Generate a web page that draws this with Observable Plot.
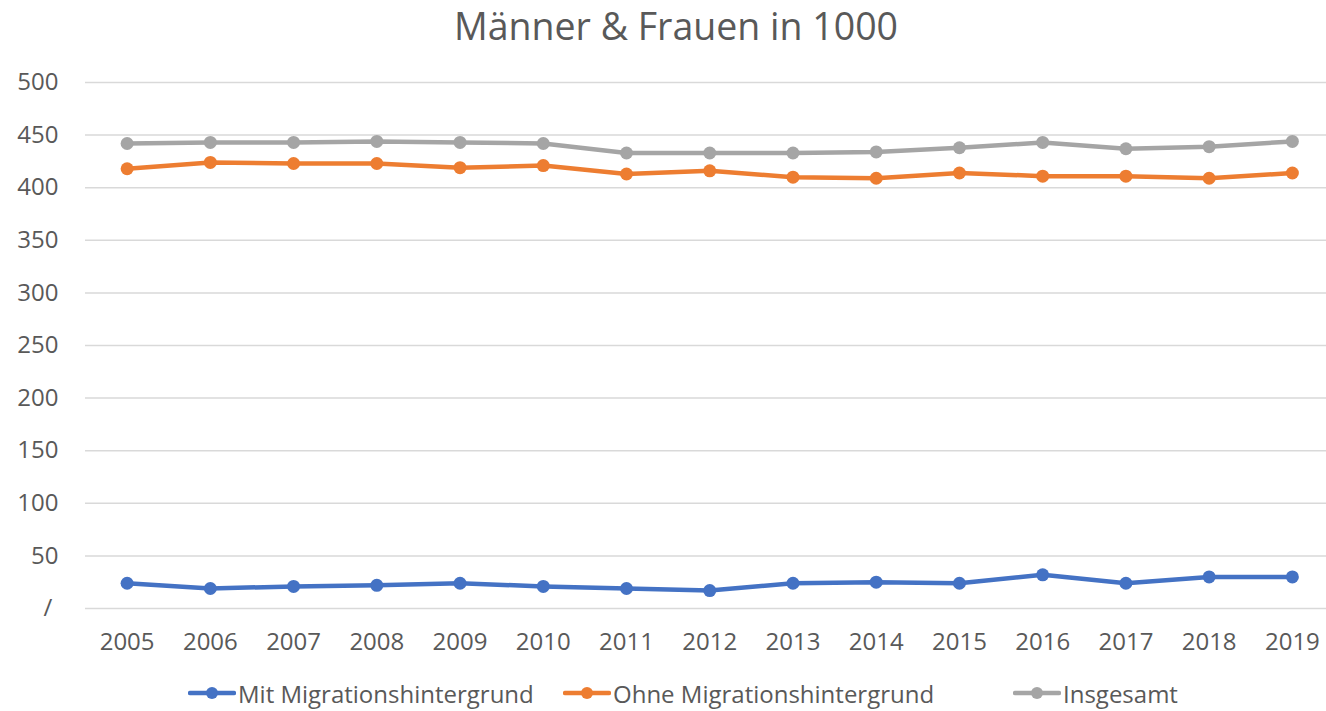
<!DOCTYPE html>
<html>
<head>
<meta charset="utf-8">
<script src="https://cdn.jsdelivr.net/npm/d3@7"></script>
<script src="https://cdn.jsdelivr.net/npm/@observablehq/plot@0.6"></script>
<style>
  body { margin: 0; width: 1326px; height: 711px; overflow: hidden; background: #fff; font-family: "Open Sans", sans-serif; color: #595959; position: relative; }
  #title { position: absolute; top: 0; left: 13px; width: 1326px; text-align: center; font-size: 37.5px; line-height: 52px; color: #595959; white-space: nowrap; }
  #chart { position: absolute; top: 55px; left: 0; }
  .leg { position: absolute; top: 677px; height: 32px; display: flex; align-items: center; font-size: 24px; color: #595959; white-space: nowrap; }
  .leg svg { margin-right: 2px; }
</style>
</head>
<body>
<div id="title">Männer &amp; Frauen in 1000</div>
<div id="chart"></div>
<div id="legend"></div>
<script>
const years = [2005, 2006, 2007, 2008, 2009, 2010, 2011, 2012, 2013, 2014, 2015, 2016, 2017, 2018, 2019];
const seriesNames = ["Mit Migrationshintergrund", "Ohne Migrationshintergrund", "Insgesamt"];
const seriesColors = ["#4472C4", "#ED7D31", "#A5A5A5"];
const mit = [24, 19, 21, 22, 24, 21, 19, 17, 24, 25, 24, 32, 24, 30, 30];
const ohne = [418, 424, 423, 423, 419, 421, 413, 416, 410, 409, 414, 411, 411, 409, 414];
const insgesamt = [442, 443, 443, 444, 443, 442, 433, 433, 433, 434, 438, 443, 437, 439, 444];
const yTicks = [0, 50, 100, 150, 200, 250, 300, 350, 400, 450, 500];

const valuesBySeries = [mit, ohne, insgesamt];
const data = [];
seriesNames.forEach((s, i) => years.forEach((y, j) => data.push({year: y, value: valuesBySeries[i][j], series: s})));

const chart = Plot.plot({
  width: 1326,
  height: 610,
  marginLeft: 85,
  marginRight: 0,
  marginTop: 27,
  marginBottom: 57,
  style: {fontFamily: "'Open Sans', sans-serif", fontSize: "24px", color: "#595959", background: "transparent", overflow: "visible"},
  x: {type: "linear", domain: [2004.5, 2019.41], ticks: years, tickFormat: d => String(d), tickSize: 0, tickPadding: 24, label: null},
  y: {domain: [0, 500], ticks: yTicks, tickFormat: d => d === 0 ? "/\u00a0" : String(d), tickSize: 0, tickPadding: 27, label: null},
  color: {domain: seriesNames, range: seriesColors},
  marks: [
    Plot.ruleY(yTicks, {stroke: "#D9D9D9", strokeWidth: 1.5}),
    Plot.line(data, {x: "year", y: "value", z: "series", stroke: "series", strokeWidth: 4.5, strokeLinejoin: "round", strokeLinecap: "round"}),
    Plot.dot(data, {x: "year", y: "value", fill: "series", r: 6.5, stroke: null})
  ]
});
document.getElementById("chart").appendChild(chart);

const legend = document.getElementById("legend");
const legLeft = [188, 563, 1013];
seriesNames.forEach((s, i) => {
  const item = document.createElement("div");
  item.className = "leg";
  item.style.left = legLeft[i] + "px";
  item.innerHTML = `<svg width="48" height="16"><line x1="2" y1="8" x2="46" y2="8" stroke="${seriesColors[i]}" stroke-width="4.5" stroke-linecap="round"/><circle cx="24" cy="8" r="6" fill="${seriesColors[i]}"/></svg><span>${s}</span>`;
  legend.appendChild(item);
});
</script>
</body>
</html>
